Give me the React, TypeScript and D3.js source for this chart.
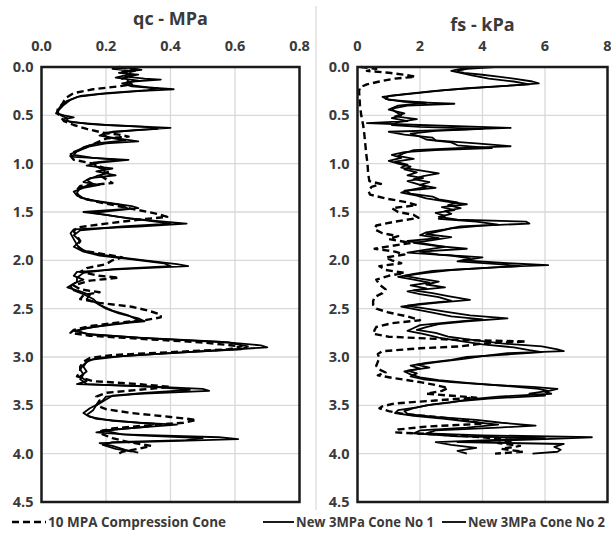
import React from 'react';
import * as d3 from 'd3';

type Pt = [number, number]; // [depth m, value]

const depthTicks = [0, 0.5, 1, 1.5, 2, 2.5, 3, 3.5, 4, 4.5];
const qcTicks = [0, 0.2, 0.4, 0.6, 0.8];
const fsTicks = [0, 2, 4, 6, 8];
const seriesNames = ['10 MPA Compression Cone', 'New 3MPa Cone No 1', 'New 3MPa Cone No 2'];
const panelTitles = ['qc - MPa', 'fs - kPa'];

const qcCone10: Pt[] = [
  [0.0, 0.24], [0.03, 0.3], [0.06, 0.26], [0.09, 0.28], [0.12, 0.25], [0.15, 0.27], [0.18, 0.28], [0.2, 0.24],
  [0.23, 0.16], [0.27, 0.1], [0.32, 0.075], [0.38, 0.065], [0.44, 0.05], [0.48, 0.05], [0.52, 0.06], [0.56, 0.07],
  [0.6, 0.1], [0.64, 0.14], [0.68, 0.19], [0.7, 0.24], [0.72, 0.27], [0.74, 0.2], [0.77, 0.18], [0.8, 0.16],
  [0.84, 0.13], [0.88, 0.1], [0.92, 0.09], [0.96, 0.1], [1.0, 0.16], [1.04, 0.19], [1.08, 0.21], [1.12, 0.18],
  [1.16, 0.2], [1.2, 0.22], [1.23, 0.12], [1.27, 0.11], [1.32, 0.11], [1.36, 0.13], [1.4, 0.18], [1.44, 0.24],
  [1.48, 0.3], [1.52, 0.36], [1.55, 0.39], [1.58, 0.3], [1.62, 0.2], [1.66, 0.11], [1.7, 0.1], [1.75, 0.11],
  [1.8, 0.12], [1.85, 0.11], [1.9, 0.13], [1.94, 0.2], [1.97, 0.25], [2.0, 0.22], [2.04, 0.2], [2.08, 0.14],
  [2.12, 0.12], [2.16, 0.18], [2.18, 0.24], [2.21, 0.15], [2.26, 0.1], [2.3, 0.12], [2.33, 0.18], [2.36, 0.13],
  [2.4, 0.12], [2.44, 0.18], [2.48, 0.28], [2.52, 0.33], [2.56, 0.37], [2.59, 0.37], [2.62, 0.32], [2.65, 0.22],
  [2.68, 0.15], [2.72, 0.1], [2.75, 0.09], [2.78, 0.15], [2.81, 0.3], [2.85, 0.5], [2.89, 0.62], [2.92, 0.58],
  [2.95, 0.4], [2.98, 0.22], [3.01, 0.15], [3.05, 0.13], [3.1, 0.12], [3.15, 0.12], [3.2, 0.11], [3.25, 0.16],
  [3.28, 0.3], [3.31, 0.4], [3.34, 0.3], [3.37, 0.2], [3.41, 0.17], [3.45, 0.18], [3.5, 0.17], [3.54, 0.2],
  [3.58, 0.28], [3.62, 0.4], [3.65, 0.48], [3.68, 0.44], [3.71, 0.32], [3.74, 0.22], [3.77, 0.18], [3.8, 0.19],
  [3.84, 0.22], [3.88, 0.27], [3.92, 0.34], [3.95, 0.3], [3.98, 0.25], [4.0, 0.24],
];

const qcCone1: Pt[] = [
  [0.0, 0.3], [0.02, 0.22], [0.04, 0.28], [0.06, 0.24], [0.08, 0.3], [0.1, 0.26], [0.12, 0.32], [0.13, 0.37],
  [0.15, 0.28], [0.18, 0.26], [0.21, 0.33], [0.23, 0.41], [0.25, 0.3], [0.28, 0.18], [0.31, 0.11], [0.35, 0.08],
  [0.4, 0.06], [0.45, 0.05], [0.48, 0.045], [0.5, 0.07], [0.52, 0.1], [0.54, 0.07], [0.57, 0.09], [0.6, 0.2],
  [0.63, 0.4], [0.65, 0.3], [0.68, 0.2], [0.71, 0.18], [0.74, 0.24], [0.77, 0.3], [0.79, 0.2], [0.82, 0.15],
  [0.86, 0.12], [0.9, 0.09], [0.93, 0.1], [0.96, 0.27], [0.99, 0.18], [1.02, 0.14], [1.05, 0.22], [1.08, 0.17],
  [1.12, 0.23], [1.15, 0.15], [1.19, 0.13], [1.22, 0.18], [1.25, 0.13], [1.29, 0.1], [1.33, 0.11], [1.37, 0.14],
  [1.4, 0.2], [1.44, 0.28], [1.46, 0.3], [1.5, 0.13], [1.53, 0.2], [1.57, 0.28], [1.6, 0.38], [1.62, 0.45],
  [1.65, 0.3], [1.68, 0.1], [1.72, 0.09], [1.78, 0.1], [1.84, 0.11], [1.88, 0.12], [1.92, 0.15], [1.96, 0.22],
  [2.0, 0.32], [2.04, 0.42], [2.06, 0.455], [2.09, 0.25], [2.12, 0.11], [2.16, 0.1], [2.2, 0.13], [2.24, 0.1],
  [2.28, 0.08], [2.32, 0.12], [2.36, 0.15], [2.4, 0.14], [2.44, 0.17], [2.5, 0.2], [2.55, 0.24], [2.6, 0.3],
  [2.63, 0.32], [2.66, 0.22], [2.7, 0.14], [2.73, 0.11], [2.76, 0.14], [2.8, 0.3], [2.84, 0.55], [2.88, 0.68],
  [2.9, 0.7], [2.93, 0.55], [2.97, 0.35], [3.01, 0.17], [3.05, 0.14], [3.1, 0.13], [3.15, 0.14], [3.2, 0.12],
  [3.25, 0.14], [3.28, 0.11], [3.3, 0.3], [3.33, 0.5], [3.35, 0.52], [3.38, 0.3], [3.41, 0.2], [3.45, 0.19],
  [3.5, 0.17], [3.55, 0.16], [3.6, 0.14], [3.64, 0.17], [3.68, 0.3], [3.7, 0.42], [3.73, 0.3], [3.76, 0.19],
  [3.8, 0.25], [3.83, 0.55], [3.85, 0.61], [3.87, 0.4], [3.89, 0.18], [3.92, 0.22], [3.96, 0.26], [3.99, 0.3],
];

const qcCone2: Pt[] = [
  [0.0, 0.26], [0.03, 0.31], [0.05, 0.25], [0.08, 0.27], [0.11, 0.23], [0.14, 0.3], [0.17, 0.25], [0.2, 0.28],
  [0.22, 0.36], [0.24, 0.33], [0.27, 0.2], [0.3, 0.12], [0.34, 0.09], [0.39, 0.07], [0.44, 0.055], [0.47, 0.05],
  [0.5, 0.06], [0.53, 0.08], [0.56, 0.08], [0.59, 0.15], [0.62, 0.32], [0.64, 0.36], [0.67, 0.22], [0.7, 0.19],
  [0.73, 0.21], [0.76, 0.26], [0.79, 0.17], [0.83, 0.13], [0.87, 0.11], [0.91, 0.1], [0.94, 0.16], [0.96, 0.24],
  [0.99, 0.16], [1.03, 0.17], [1.06, 0.19], [1.1, 0.2], [1.13, 0.17], [1.17, 0.14], [1.21, 0.16], [1.25, 0.12],
  [1.3, 0.11], [1.35, 0.12], [1.39, 0.17], [1.43, 0.25], [1.47, 0.27], [1.51, 0.16], [1.55, 0.24], [1.59, 0.33],
  [1.62, 0.4], [1.65, 0.25], [1.69, 0.12], [1.74, 0.1], [1.8, 0.12], [1.86, 0.1], [1.91, 0.13], [1.95, 0.18],
  [1.99, 0.28], [2.03, 0.38], [2.06, 0.4], [2.09, 0.22], [2.13, 0.13], [2.18, 0.11], [2.22, 0.11], [2.27, 0.09],
  [2.31, 0.1], [2.35, 0.13], [2.4, 0.16], [2.46, 0.18], [2.52, 0.22], [2.57, 0.27], [2.62, 0.3], [2.65, 0.26],
  [2.69, 0.16], [2.73, 0.1], [2.77, 0.16], [2.81, 0.35], [2.85, 0.58], [2.89, 0.64], [2.92, 0.62], [2.95, 0.45],
  [2.99, 0.25], [3.03, 0.15], [3.08, 0.13], [3.13, 0.12], [3.18, 0.13], [3.23, 0.12], [3.28, 0.14], [3.31, 0.35],
  [3.34, 0.46], [3.37, 0.33], [3.4, 0.22], [3.44, 0.2], [3.48, 0.18], [3.53, 0.15], [3.58, 0.13], [3.62, 0.15],
  [3.66, 0.22], [3.69, 0.35], [3.72, 0.33], [3.75, 0.23], [3.78, 0.17], [3.81, 0.3], [3.84, 0.5], [3.86, 0.45],
  [3.88, 0.22], [3.91, 0.19], [3.95, 0.23], [3.98, 0.28],
];

const fsCone10: Pt[] = [
  [0.0, 0.1], [0.02, 0.6], [0.04, 0.3], [0.06, 1.0], [0.08, 1.5], [0.1, 1.85], [0.12, 1.2], [0.15, 0.7],
  [0.18, 0.3], [0.21, 0.08], [0.25, 0.05], [0.3, 0.06], [0.4, 0.08], [0.5, 0.12], [0.6, 0.18], [0.7, 0.22],
  [0.8, 0.25], [0.9, 0.28], [1.0, 0.32], [1.1, 0.34], [1.18, 0.38], [1.21, 0.75], [1.24, 0.45], [1.28, 0.35],
  [1.32, 0.4], [1.36, 0.9], [1.4, 1.6], [1.43, 1.9], [1.46, 1.1], [1.5, 1.3], [1.53, 1.8], [1.56, 1.95],
  [1.6, 1.2], [1.64, 0.6], [1.68, 0.55], [1.72, 0.8], [1.75, 1.3], [1.78, 1.0], [1.82, 1.7], [1.85, 1.1],
  [1.88, 0.55], [1.91, 1.2], [1.94, 1.5], [1.97, 0.9], [2.0, 1.1], [2.03, 1.4], [2.06, 0.7], [2.1, 0.9],
  [2.13, 1.5], [2.16, 1.0], [2.2, 0.6], [2.25, 0.7], [2.3, 0.9], [2.34, 0.8], [2.38, 0.55], [2.42, 0.5],
  [2.46, 0.5], [2.5, 0.6], [2.54, 1.0], [2.58, 1.6], [2.62, 2.0], [2.65, 1.1], [2.69, 0.6], [2.72, 0.55],
  [2.76, 0.5], [2.79, 1.0], [2.82, 3.0], [2.84, 5.4], [2.86, 4.0], [2.89, 3.3], [2.91, 2.0], [2.94, 0.8],
  [2.97, 0.65], [3.01, 0.7], [3.05, 0.65], [3.09, 0.6], [3.13, 0.7], [3.16, 0.9], [3.19, 0.65], [3.22, 1.2],
  [3.26, 2.0], [3.29, 2.5], [3.32, 2.9], [3.35, 2.7], [3.38, 2.2], [3.42, 3.8], [3.45, 2.5], [3.48, 1.2],
  [3.51, 0.8], [3.53, 0.7], [3.56, 1.0], [3.59, 1.5], [3.63, 2.8], [3.66, 3.6], [3.69, 4.0], [3.72, 2.2],
  [3.75, 1.3], [3.78, 1.2], [3.8, 2.5], [3.83, 4.0], [3.86, 5.0], [3.89, 4.5], [3.92, 5.2], [3.95, 4.6],
  [3.98, 5.3], [4.0, 4.4],
];

const fsCone1: Pt[] = [
  [0.0, 4.4], [0.02, 3.5], [0.04, 3.2], [0.06, 3.4], [0.08, 4.0], [0.1, 4.5], [0.12, 5.0], [0.15, 5.6],
  [0.17, 5.8], [0.19, 5.0], [0.21, 4.0], [0.24, 2.8], [0.27, 1.9], [0.3, 1.0], [0.33, 0.9], [0.36, 1.5],
  [0.38, 3.1], [0.4, 1.6], [0.43, 1.1], [0.46, 1.2], [0.5, 1.4], [0.53, 1.1], [0.56, 1.6], [0.58, 0.3],
  [0.6, 2.0], [0.63, 4.9], [0.65, 3.0], [0.67, 1.0], [0.7, 1.5], [0.73, 2.4], [0.76, 2.5], [0.79, 3.8],
  [0.82, 4.9], [0.84, 3.2], [0.86, 1.8], [0.89, 1.5], [0.92, 1.3], [0.95, 1.8], [0.98, 1.2], [1.01, 1.6],
  [1.04, 1.4], [1.07, 2.0], [1.1, 2.6], [1.13, 2.1], [1.16, 1.8], [1.19, 2.3], [1.22, 2.0], [1.25, 2.5],
  [1.28, 1.5], [1.31, 1.7], [1.34, 2.4], [1.37, 2.6], [1.4, 3.2], [1.43, 2.9], [1.46, 3.3], [1.49, 2.8],
  [1.52, 3.0], [1.55, 2.6], [1.58, 3.2], [1.6, 5.4], [1.62, 5.5], [1.64, 4.0], [1.67, 3.0], [1.7, 2.6],
  [1.73, 2.2], [1.76, 3.0], [1.79, 2.4], [1.82, 1.8], [1.85, 2.5], [1.88, 3.5], [1.91, 2.0], [1.94, 2.6],
  [1.97, 4.0], [2.0, 3.4], [2.03, 4.8], [2.05, 6.1], [2.07, 4.5], [2.1, 3.0], [2.13, 2.2], [2.16, 1.5],
  [2.19, 2.0], [2.22, 2.6], [2.25, 2.2], [2.28, 2.8], [2.31, 1.8], [2.34, 2.4], [2.37, 2.9], [2.41, 3.6],
  [2.44, 2.5], [2.47, 1.6], [2.5, 2.2], [2.53, 2.8], [2.57, 3.6], [2.6, 4.8], [2.63, 3.5], [2.66, 2.6],
  [2.69, 2.2], [2.72, 1.9], [2.75, 2.5], [2.79, 2.9], [2.82, 3.6], [2.86, 4.6], [2.89, 5.9], [2.92, 6.4],
  [2.94, 6.6], [2.96, 4.8], [2.99, 4.0], [3.02, 3.4], [3.05, 2.6], [3.08, 1.9], [3.11, 2.3], [3.14, 1.6],
  [3.17, 1.9], [3.2, 1.7], [3.23, 2.1], [3.26, 3.0], [3.29, 4.4], [3.31, 5.6], [3.33, 6.4], [3.36, 6.0],
  [3.38, 6.2], [3.41, 4.5], [3.44, 3.5], [3.47, 3.0], [3.5, 2.2], [3.53, 1.8], [3.56, 1.5], [3.59, 1.6],
  [3.62, 2.5], [3.65, 3.8], [3.68, 4.6], [3.71, 5.7], [3.73, 4.5], [3.76, 2.5], [3.79, 2.2], [3.81, 4.0],
  [3.83, 7.5], [3.85, 6.0], [3.88, 3.2], [3.9, 6.6], [3.93, 6.3], [3.96, 6.5], [3.98, 6.4], [4.0, 5.6],
];

const fsCone2: Pt[] = [
  [0.0, 3.9], [0.02, 3.3], [0.04, 3.0], [0.06, 3.3], [0.09, 3.7], [0.12, 4.2], [0.15, 5.0], [0.18, 5.5],
  [0.2, 4.5], [0.22, 3.5], [0.25, 2.4], [0.28, 1.5], [0.31, 0.8], [0.34, 1.0], [0.37, 2.2], [0.4, 1.3],
  [0.44, 1.0], [0.48, 1.5], [0.51, 1.2], [0.54, 1.9], [0.57, 1.3], [0.6, 1.1], [0.62, 2.0], [0.64, 4.0],
  [0.66, 2.5], [0.69, 1.7], [0.72, 2.0], [0.75, 2.2], [0.78, 3.0], [0.81, 3.2], [0.84, 4.3], [0.86, 2.5],
  [0.88, 1.5], [0.91, 1.1], [0.94, 1.4], [0.97, 1.0], [1.0, 1.3], [1.03, 1.7], [1.06, 1.5], [1.09, 1.9],
  [1.12, 1.6], [1.15, 2.1], [1.18, 1.6], [1.21, 1.9], [1.24, 2.2], [1.27, 1.7], [1.3, 1.4], [1.33, 1.9],
  [1.36, 2.2], [1.39, 2.8], [1.42, 3.5], [1.45, 2.7], [1.48, 3.1], [1.51, 2.5], [1.54, 2.8], [1.57, 2.6],
  [1.6, 3.8], [1.63, 4.5], [1.65, 3.3], [1.68, 2.8], [1.71, 2.2], [1.74, 2.0], [1.77, 2.6], [1.8, 1.6],
  [1.83, 2.2], [1.86, 2.8], [1.89, 2.2], [1.92, 1.6], [1.95, 3.0], [1.98, 3.6], [2.01, 3.2], [2.04, 4.5],
  [2.06, 5.2], [2.08, 4.0], [2.11, 2.4], [2.14, 1.8], [2.17, 1.3], [2.2, 1.8], [2.23, 2.3], [2.26, 1.7],
  [2.29, 2.2], [2.32, 1.6], [2.35, 2.0], [2.38, 2.6], [2.42, 3.0], [2.45, 2.0], [2.48, 1.4], [2.51, 1.9],
  [2.54, 2.4], [2.58, 3.0], [2.61, 4.0], [2.64, 3.0], [2.67, 2.0], [2.7, 1.8], [2.73, 1.6], [2.76, 2.1],
  [2.8, 2.6], [2.83, 3.2], [2.87, 4.0], [2.9, 5.0], [2.93, 5.5], [2.95, 5.9], [2.98, 4.5], [3.0, 3.5],
  [3.03, 3.0], [3.06, 2.2], [3.09, 1.7], [3.12, 2.0], [3.15, 1.5], [3.18, 1.7], [3.21, 2.0], [3.24, 2.6],
  [3.27, 3.6], [3.3, 4.8], [3.33, 5.8], [3.35, 6.1], [3.38, 5.5], [3.4, 6.0], [3.43, 4.2], [3.46, 3.2],
  [3.49, 2.4], [3.52, 1.9], [3.55, 1.3], [3.58, 1.2], [3.61, 1.8], [3.64, 2.8], [3.67, 3.6], [3.7, 4.5],
  [3.73, 3.5], [3.76, 2.0], [3.79, 1.8], [3.82, 3.2], [3.84, 6.0], [3.86, 4.2], [3.88, 2.5], [3.91, 3.0],
  [3.94, 3.8], [3.97, 3.2], [4.0, 3.5],
];

const W = 611;
const H = 549;
const TOP = 67;
const BOTTOM = 502;
const FONT = "'Open Sans', 'Liberation Sans', sans-serif";
const TXT = '#3a3a3a';

const yScale = d3.scaleLinear().domain([0, 4.5]).range([TOP, BOTTOM]);

interface PanelProps {
  x0: number;
  x1: number;
  domain: [number, number];
  ticks: number[];
  fmt: (n: number) => string;
  title: string;
  titleY: number;
  series: Pt[][];
}

const dashes = ['7,4', null, null];
const widths = [2.4, 1.8, 1.8];

function Panel({ x0, x1, domain, ticks, fmt, title, titleY, series }: PanelProps) {
  const x = d3.scaleLinear().domain(domain).range([x0, x1]);
  const line = d3
    .line<Pt>()
    .x((d) => x(d[1]))
    .y((d) => yScale(d[0]));
  return (
    <g>
      {ticks.slice(1, -1).map((t) => (
        <line key={'gx' + t} x1={x(t)} x2={x(t)} y1={TOP} y2={BOTTOM} stroke="#d9d9d9" strokeWidth={1.3} />
      ))}
      {depthTicks.slice(1, -1).map((t) => (
        <line key={'gy' + t} x1={x0} x2={x1} y1={yScale(t)} y2={yScale(t)} stroke="#d9d9d9" strokeWidth={1.3} />
      ))}
      {series.map((s, i) => (
        <path
          key={i}
          d={line(s) || ''}
          fill="none"
          stroke="#000"
          strokeWidth={widths[i]}
          strokeDasharray={dashes[i] || undefined}
          strokeLinejoin="round"
        />
      ))}
      <rect x={x0} y={TOP} width={x1 - x0} height={BOTTOM - TOP} fill="none" stroke="#1a1a1a" strokeWidth={2.5} />
      {ticks.map((t) => (
        <text key={'tx' + t} x={x(t)} y={51} textAnchor="middle" fontSize={14.5} fontWeight={700} fill={TXT} fontFamily={FONT}>
          {fmt(t)}
        </text>
      ))}
      {depthTicks.map((t) => (
        <text key={'ty' + t} x={x0 - 8} y={yScale(t) + 5} textAnchor="end" fontSize={14.5} fontWeight={700} fill={TXT} fontFamily={FONT}>
          {d3.format('.1f')(t)}
        </text>
      ))}
      <text x={(x0 + x1) / 2} y={titleY} textAnchor="middle" fontSize={18} fontWeight={700} fill={TXT} fontFamily={FONT}>
        {title}
      </text>
    </g>
  );
}

export default function App() {
  const legendY = 522;
  const legendItems = [
    { x0: 12, x1: 46, dash: '7,4', w: 2.4, tx: 48, tw: 178 },
    { x0: 263, x1: 294, dash: null, w: 1.8, tx: 296, tw: 138 },
    { x0: 442, x1: 466, dash: null, w: 1.8, tx: 468, tw: 137 },
  ];
  return (
    <svg width={W} height={H} style={{ position: 'absolute', left: 0, top: 0, background: '#fff' }}>
      <rect x={0} y={0} width={W} height={H} fill="#fff" />
      <line x1={316} x2={316} y1={6} y2={510} stroke="#d9d9d9" strokeWidth={1.2} />
      <Panel
        x0={41.5}
        x1={299.5}
        domain={[0, 0.8]}
        ticks={qcTicks}
        fmt={d3.format('.1f')}
        title={panelTitles[0]}
        titleY={25}
        series={[qcCone10, qcCone1, qcCone2]}
      />
      <Panel
        x0={357.5}
        x1={607.5}
        domain={[0, 8]}
        ticks={fsTicks}
        fmt={d3.format('d')}
        title={panelTitles[1]}
        titleY={31}
        series={[fsCone10, fsCone1, fsCone2]}
      />
      {legendItems.map((it, i) => (
        <g key={i}>
          <line x1={it.x0} x2={it.x1} y1={legendY} y2={legendY} stroke="#000" strokeWidth={it.w} strokeDasharray={it.dash || undefined} />
          <text
            x={it.tx}
            y={legendY + 5}
            fontSize={13.5}
            fontWeight={700}
            fill={TXT}
            fontFamily={FONT}
            textLength={it.tw}
            lengthAdjust="spacingAndGlyphs"
          >
            {seriesNames[i]}
          </text>
        </g>
      ))}
    </svg>
  );
}
